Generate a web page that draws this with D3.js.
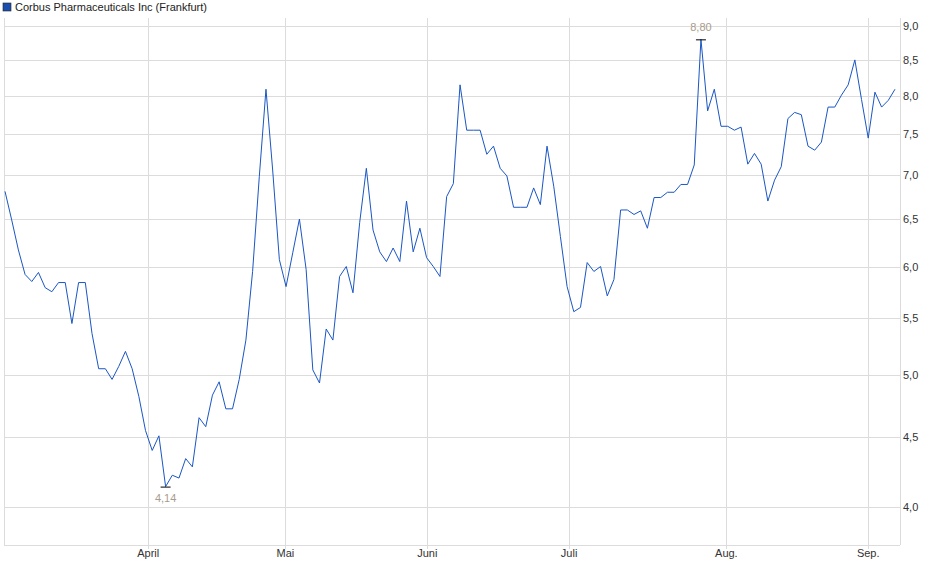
<!DOCTYPE html>
<html><head><meta charset="utf-8">
<script src="https://cdn.jsdelivr.net/npm/d3@7"></script>
<style>body{margin:0;background:#fff}text{font-family:Arial,"Liberation Sans",sans-serif}</style>
</head><body>
<svg id="chartsvg" width="940" height="579"></svg>
<script>
var vis = d3.select("#chartsvg");
const title = "Corbus Pharmaceuticals Inc (Frankfurt)";
// daily closes, one per trading day
const prices = [6.81,6.49,6.17,5.92,5.85,5.94,5.79,5.75,5.84,5.84,5.45,5.84,5.84,5.36,5.05,5.05,4.96,5.07,5.20,5.05,
  4.82,4.55,4.40,4.51,4.14,4.22,4.20,4.34,4.28,4.65,4.58,4.83,4.94,4.72,4.72,4.96,5.30,5.95,6.98,8.09,
  7.06,6.07,5.80,6.14,6.50,5.97,5.04,4.93,
  5.40,5.30,5.90,6.00,5.74,6.46,7.08,6.38,6.15,6.05,6.19,6.05,6.70,6.15,6.40,6.09,6.00,5.90,6.75,6.90,
  8.15,7.55,7.55,7.55,7.25,7.35,7.08,6.99,6.63,6.63,6.63,6.85,6.66,7.35,6.87,6.31,5.80,5.56,5.60,6.04,
  5.95,6.00,5.71,5.87,
  6.60,6.60,6.55,6.59,6.40,6.74,6.74,6.80,6.80,6.89,6.89,7.12,8.80,7.80,8.09,7.60,7.60,7.55,7.59,7.13,
  7.26,7.13,6.70,6.94,7.10,7.70,7.78,7.75,7.35,7.30,7.40,7.85,7.85,8.01,8.15,8.50,7.95,7.45,8.05,7.85,
  7.94,8.09];
const monthLabels = ["April","Mai","Juni","Juli","Aug.","Sep."];
const monthIdx = [21.4,41.9,63.1,84.3,107.8,129.0]; // trading-day position of month start
const yTicks = [4.0,4.5,5.0,5.5,6.0,6.5,7.0,7.5,8.0,8.5,9.0];

const plot = {left: 4, right: 900, top: 18, bottom: 545};
var x = d3.scaleLinear().domain([0, prices.length - 1]).range([5, 895]);
var y = d3.scaleLog().domain([4, 9]).range([507, 26]);
const fmt = v => d3.format(".1f")(v).replace(".", ",");
const fmt2 = v => d3.format(".2f")(v).replace(".", ",");

// grid
vis.append("g").selectAll("line").data(yTicks).enter().append("line")
    .attr("x1", plot.left).attr("x2", plot.right)
    .attr("y1", d => Math.round(y(d)) + 0.5).attr("y2", d => Math.round(y(d)) + 0.5)
    .attr("stroke", "#dcdcdc");
vis.append("g").selectAll("line").data(monthIdx).enter().append("line")
    .attr("x1", d => Math.round(x(d)) + 0.5).attr("x2", d => Math.round(x(d)) + 0.5)
    .attr("y1", plot.top).attr("y2", plot.bottom + 4)
    .attr("stroke", "#dcdcdc");
// frame
vis.append("line").attr("x1", plot.left + 0.5).attr("x2", plot.left + 0.5)
    .attr("y1", plot.top).attr("y2", plot.bottom).attr("stroke", "#dcdcdc");
vis.append("line").attr("x1", plot.right + 0.5).attr("x2", plot.right + 0.5)
    .attr("y1", plot.top).attr("y2", plot.bottom).attr("stroke", "#dcdcdc");
vis.append("line").attr("x1", plot.left).attr("x2", plot.right)
    .attr("y1", plot.bottom + 0.5).attr("y2", plot.bottom + 0.5).attr("stroke", "#dcdcdc");

// axis labels
vis.append("g").selectAll("text").data(yTicks).enter().append("text")
    .attr("x", 903).attr("y", d => y(d) + 4)
    .attr("font-size", 11).attr("fill", "#333").text(fmt);
vis.append("g").selectAll("text").data(monthLabels).enter().append("text")
    .attr("x", (d, i) => x(monthIdx[i])).attr("y", 557)
    .attr("text-anchor", "middle").attr("font-size", 11).attr("fill", "#333").text(d => d);

// price line
vis.append("path").datum(prices)
    .attr("fill", "none").attr("stroke", "#1a56c4").attr("stroke-width", 1)
    .attr("d", d3.line().x((d, i) => x(i)).y(d => y(d)));

// high / low markers
var hi = d3.maxIndex(prices), lo = d3.minIndex(prices);
[[hi, -8], [lo, 15]].forEach(([i, dy]) => {
    vis.append("line").attr("x1", x(i) - 5).attr("x2", x(i) + 5)
        .attr("y1", y(prices[i]) + 0.5).attr("y2", y(prices[i]) + 0.5)
        .attr("stroke", "#000");
    vis.append("text").attr("x", x(i)).attr("y", y(prices[i]) + dy)
        .attr("text-anchor", "middle").attr("font-size", 11).attr("fill", "#a89c8c")
        .text(fmt2(prices[i]));
});

// title
vis.append("rect").attr("x", 3).attr("y", 3).attr("width", 8).attr("height", 8)
    .attr("fill", "#1a4fb0").attr("stroke", "#222").attr("stroke-width", 0.6);
vis.append("text").attr("x", 15).attr("y", 11).attr("font-size", 11).attr("fill", "#222").text(title);
</script>
</body></html>
